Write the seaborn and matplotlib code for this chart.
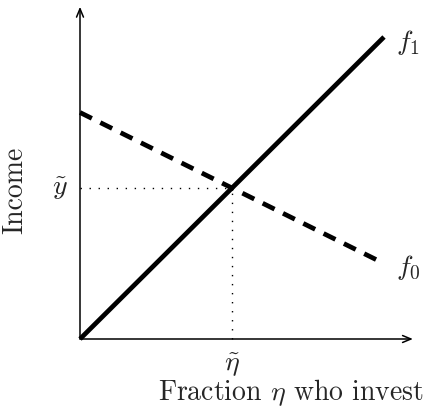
import matplotlib
matplotlib.use('Agg')
import matplotlib.pyplot as plt
import seaborn as sns
import pandas as pd

# ── Data ──────────────────────────────────────────────────────────
eta = [0.0, 1.0]
f1_income = [0.0, 1.0]
f0_income = [0.75, 0.25]
eta_tilde = 0.5
y_tilde = 0.5

df = pd.DataFrame({
    "eta": eta + eta,
    "income": f1_income + f0_income,
    "curve": ["f1"] * len(eta) + ["f0"] * len(eta),
})

# ── Style ─────────────────────────────────────────────────────────
sns.set_style("white")
plt.rcParams['mathtext.fontset'] = 'cm'
plt.rcParams['font.family'] = ['cmr10', 'DejaVu Serif']
plt.rcParams['axes.formatter.use_mathtext'] = True

fig = plt.figure(figsize=(4.32, 4.10), dpi=100)
ax = fig.add_axes([0, 0, 1, 1])

sx, sy = 304.0, 302.0

# axes with arrows
arrow = dict(arrowstyle='->,head_length=0.6,head_width=0.25', lw=1.1, color='black',
             shrinkA=0, shrinkB=0)
ax.annotate('', xy=(1.095, 0), xytext=(0, 0), arrowprops=arrow)
ax.annotate('', xy=(0, 1.10), xytext=(0, 0), arrowprops=arrow)

# curves
sns.lineplot(data=df[df.curve == "f1"], x="eta", y="income", color='black',
             lw=3.4, ax=ax, legend=False, solid_capstyle='butt')
sns.lineplot(data=df[df.curve == "f0"], x="eta", y="income", color='black',
             lw=3.4, ax=ax, legend=False, linestyle=(0, (2.8, 2.0)))

# dotted guides
ax.plot([0, eta_tilde], [y_tilde, y_tilde], color='black', lw=1.0,
        linestyle=(0, (1, 5.5)))
ax.plot([eta_tilde, eta_tilde], [0, y_tilde], color='black', lw=1.0,
        linestyle=(0, (1, 5.5)))

ax.set_xlim(-80 / sx, 352 / sx)
ax.set_ylim(-70 / sy, 340 / sy)
ax.axis('off')

# labels
fs = 20
ax.text(1.04, 0.985, r'$f_1$', fontsize=fs, ha='left', va='center')
ax.text(1.04, 0.24, r'$f_0$', fontsize=fs, ha='left', va='center')
ax.text(-0.066, y_tilde, r'$\tilde{y}$', fontsize=fs, ha='center', va='center')
ax.text(eta_tilde, -0.083, r'$\tilde{\eta}$', fontsize=fs, ha='center', va='center')
ax.text(0.694, -0.175, r'Fraction $\eta$ who invest', fontsize=fs, ha='center', va='center')
ax.text(-0.214, 0.497, 'Income', fontsize=fs, ha='center', va='center', rotation=90)

fig.savefig('out.png', dpi=100)
